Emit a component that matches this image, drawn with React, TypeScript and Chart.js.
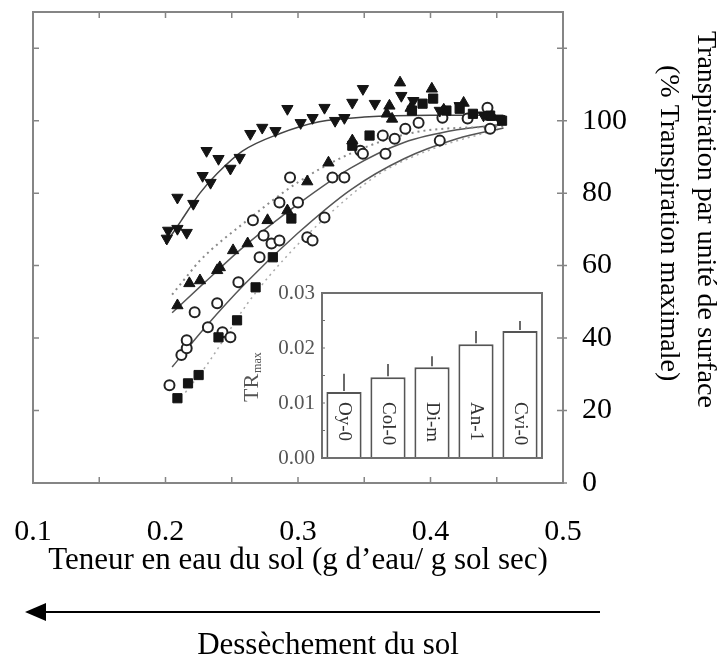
import React, { useEffect, useRef } from 'react';
import { Chart, registerables } from 'chart.js';

Chart.register(...registerables);

const FONT = "'Liberation Serif', 'Times New Roman', serif";

// ---------- Main figure data (soil water content vs. transpiration %) ----------
const downTriX = [0.201, 0.202, 0.209, 0.216, 0.209, 0.221, 0.228, 0.234, 0.231, 0.240, 0.249, 0.256, 0.264, 0.273, 0.283, 0.292, 0.302, 0.311, 0.320, 0.328, 0.335, 0.341, 0.349, 0.358, 0.378, 0.387, 0.407, 0.422, 0.440, 0.452];
const downTriY = [67.5, 69.7, 70.2, 69.1, 78.8, 77.1, 84.8, 82.9, 91.7, 89.5, 86.8, 89.8, 96.4, 98.1, 97.2, 103.3, 99.4, 100.8, 103.6, 100.0, 100.8, 105.0, 108.8, 104.7, 106.9, 105.5, 102.8, 104.1, 101.5, 100.5];

const upTriX = [0.209, 0.218, 0.226, 0.239, 0.241, 0.251, 0.262, 0.277, 0.292, 0.307, 0.323, 0.341, 0.367, 0.369, 0.371, 0.377, 0.385, 0.401, 0.410, 0.425, 0.447];
const upTriY = [49.0, 55.1, 55.9, 58.7, 59.5, 64.2, 66.1, 72.5, 75.2, 83.2, 88.4, 94.5, 101.9, 104.1, 100.5, 110.5, 103.5, 108.8, 103.0, 104.9, 101.0];

const squareX = [0.209, 0.217, 0.225, 0.240, 0.254, 0.268, 0.281, 0.295, 0.341, 0.354, 0.386, 0.394, 0.402, 0.412, 0.422, 0.432, 0.445, 0.454];
const squareY = [23.4, 27.5, 29.8, 40.2, 44.9, 54.0, 62.3, 73.0, 93.1, 95.9, 102.8, 104.7, 106.1, 102.8, 103.3, 101.9, 101.4, 100.0];

const circleX = [0.203, 0.212, 0.216, 0.216, 0.222, 0.232, 0.239, 0.243, 0.249, 0.255, 0.266, 0.271, 0.274, 0.280, 0.286, 0.286, 0.294, 0.300, 0.307, 0.311, 0.320, 0.326, 0.335, 0.347, 0.349, 0.364, 0.366, 0.373, 0.381, 0.391, 0.407, 0.409, 0.428, 0.443, 0.445];
const circleY = [27.0, 35.3, 37.2, 39.4, 47.1, 43.0, 49.6, 41.6, 40.2, 55.4, 72.5, 62.3, 68.3, 66.1, 66.9, 77.4, 84.3, 77.4, 67.8, 66.9, 73.3, 84.3, 84.3, 91.7, 90.9, 95.9, 90.9, 95.0, 97.8, 99.4, 94.5, 100.8, 100.6, 103.6, 97.8];

// fitted curves
const fitTopX = [0.200, 0.212, 0.226, 0.239, 0.258, 0.286, 0.316, 0.350, 0.400, 0.455];
const fitTopY = [66.0, 72.5, 80.0, 85.4, 91.6, 96.4, 99.7, 101.0, 101.5, 101.5];

const fitDotX = [0.205, 0.218, 0.226, 0.260, 0.300, 0.340, 0.387, 0.455];
const fitDotY = [52.0, 57.9, 61.4, 72.0, 83.0, 91.0, 96.7, 98.5];

const fitMidX = [0.205, 0.230, 0.260, 0.300, 0.340, 0.380, 0.420, 0.455];
const fitMidY = [47.0, 55.5, 65.5, 77.0, 87.0, 94.0, 97.5, 99.0];

const fitLowX = [0.205, 0.230, 0.260, 0.300, 0.340, 0.380, 0.420, 0.455];
const fitLowY = [32.0, 43.0, 55.0, 69.0, 81.0, 89.5, 95.0, 98.0];

const fitSqX = [0.215, 0.231, 0.262, 0.290, 0.320, 0.360, 0.400, 0.455];
const fitSqY = [25.0, 32.5, 49.6, 62.0, 73.0, 85.0, 92.0, 98.0];

const xTitle = 'Teneur en eau du sol (g d\u2019eau/ g sol sec)';
const rightTitle = ['Transpiration par unit\u00e9 de surface', '(% Transpiration maximale)'];
const arrowText = 'Dess\u00e8chement du sol';

// ---------- Inset data ----------
const insetCategories = ['Oy-0', 'Col-0', 'Di-m', 'An-1', 'Cvi-0'];
const insetValues = [0.0120, 0.0147, 0.0165, 0.0207, 0.0231];
const insetErrors = [0.0033, 0.0024, 0.0020, 0.0024, 0.0018];
const insetTitle = 'TR';
const insetTitleSub = 'max';

const pts = (xs: number[], ys: number[]) => xs.map((x, i) => ({ x, y: ys[i] }));

const mainDecor = {
  id: 'mainDecor',
  afterDraw(chart: any) {
    const { ctx, chartArea: a, scales } = chart;
    ctx.save();
    // frame
    ctx.strokeStyle = '#858585';
    ctx.lineWidth = 2;
    ctx.strokeRect(a.left, a.top, a.right - a.left, a.bottom - a.top);
    // inner ticks
    ctx.lineWidth = 1.5;
    ctx.beginPath();
    scales.x.ticks.forEach((t: any) => {
      const px = scales.x.getPixelForValue(t.value);
      ctx.moveTo(px, a.bottom); ctx.lineTo(px, a.bottom - 6);
      ctx.moveTo(px, a.top); ctx.lineTo(px, a.top + 6);
    });
    scales.y.ticks.forEach((t: any) => {
      if (t.value > 120) return;
      const py = scales.y.getPixelForValue(t.value);
      ctx.moveTo(a.left, py); ctx.lineTo(a.left + 6, py);
      ctx.moveTo(a.right - 6, py); ctx.lineTo(a.right + 4, py);
    });
    ctx.stroke();

    // right titles (rotated clockwise)
    ctx.fillStyle = '#000';
    ctx.font = `28px ${FONT}`;
    ctx.textAlign = 'left';
    ctx.textBaseline = 'middle';
    const rot = (txt: string, x: number, y: number) => {
      ctx.save();
      ctx.translate(x, y);
      ctx.rotate(Math.PI / 2);
      ctx.fillText(txt, 0, 0);
      ctx.restore();
    };
    rot(rightTitle[0], a.right + 142, a.top + 19);
    rot(rightTitle[1], a.right + 105, a.top + 53);

    // arrow
    const ay = a.bottom + 129;
    ctx.strokeStyle = '#000';
    ctx.lineWidth = 2;
    ctx.beginPath();
    ctx.moveTo(a.right + 37, ay);
    ctx.lineTo(a.left + 5, ay);
    ctx.stroke();
    ctx.beginPath();
    ctx.moveTo(a.left - 8, ay);
    ctx.lineTo(a.left + 13, ay - 9);
    ctx.lineTo(a.left + 13, ay + 9);
    ctx.closePath();
    ctx.fill();

    ctx.font = `31px ${FONT}`;
    ctx.textAlign = 'center';
    ctx.textBaseline = 'alphabetic';
    ctx.fillText(arrowText, a.left + 295, a.bottom + 171);
    ctx.restore();
  },
};

const insetDecor = {
  id: 'insetDecor',
  afterDraw(chart: any) {
    const { ctx, chartArea: a, scales } = chart;
    const ys = scales.y;
    ctx.save();
    ctx.strokeStyle = '#707070';
    ctx.lineWidth = 2;
    ctx.strokeRect(a.left, a.top, a.right - a.left, a.bottom - a.top);
    // small inner ticks
    ctx.lineWidth = 1;
    ctx.beginPath();
    [0.005, 0.01, 0.015, 0.02, 0.025].forEach((v) => {
      const py = ys.getPixelForValue(v);
      ctx.moveTo(a.left, py); ctx.lineTo(a.left + 3, py);
    });
    ctx.stroke();

    // error bars and labels
    const meta = chart.getDatasetMeta(0);
    meta.data.forEach((bar: any, i: number) => {
      const y0 = ys.getPixelForValue(insetValues[i]);
      const y1 = ys.getPixelForValue(insetValues[i] + insetErrors[i]);
      ctx.strokeStyle = '#6a6a6a';
      ctx.lineWidth = 2;
      ctx.beginPath();
      ctx.moveTo(bar.x, y0 - 1);
      ctx.lineTo(bar.x, y1);
      ctx.stroke();

      ctx.save();
      ctx.fillStyle = '#333';
      ctx.font = `19px ${FONT}`;
      ctx.textAlign = 'left';
      ctx.textBaseline = 'middle';
      ctx.translate(bar.x, a.bottom - 56);
      ctx.rotate(Math.PI / 2);
      ctx.fillText(insetCategories[i], 0, 0);
      ctx.restore();
    });

    // y title TR_max rotated counter-clockwise
    ctx.save();
    ctx.fillStyle = '#555';
    ctx.translate(a.left - 70, a.bottom - 56);
    ctx.rotate(-Math.PI / 2);
    ctx.textAlign = 'left';
    ctx.textBaseline = 'middle';
    ctx.font = `22px ${FONT}`;
    ctx.fillText(insetTitle, 0, 0);
    const w = ctx.measureText(insetTitle).width;
    ctx.font = `12px ${FONT}`;
    ctx.fillText(insetTitleSub, w + 1, 6);
    ctx.restore();
    ctx.restore();
  },
};

export default function App() {
  const mainRef = useRef<HTMLCanvasElement | null>(null);
  const insetRef = useRef<HTMLCanvasElement | null>(null);

  useEffect(() => {
    if (!mainRef.current || !insetRef.current) return;
    const curve = (xs: number[], ys: number[], color: string, dash: number[], width: number) => ({
      data: pts(xs, ys),
      showLine: true,
      pointRadius: 0,
      borderColor: color,
      borderWidth: width,
      borderDash: dash,
      cubicInterpolationMode: 'monotone',
      fill: false,
    });

    const main = new Chart(mainRef.current, {
      type: 'scatter',
      data: {
        datasets: [
          { data: pts(downTriX, downTriY), pointStyle: 'triangle', pointRotation: 180, pointRadius: 6.5, pointBackgroundColor: '#141414', pointBorderColor: '#141414', pointBorderWidth: 1 },
          { data: pts(upTriX, upTriY), pointStyle: 'triangle', pointRadius: 6.5, pointBackgroundColor: '#141414', pointBorderColor: '#141414', pointBorderWidth: 1 },
          { data: pts(squareX, squareY), pointStyle: 'rect', pointRadius: 6.5, pointBackgroundColor: '#141414', pointBorderColor: '#141414', pointBorderWidth: 1 },
          { data: pts(circleX, circleY), pointStyle: 'circle', pointRadius: 5, pointBackgroundColor: '#ffffff', pointBorderColor: '#222', pointBorderWidth: 2 },
          curve(fitTopX, fitTopY, '#444', [], 1.5),
          curve(fitDotX, fitDotY, '#8a8a8a', [2, 4], 2),
          curve(fitMidX, fitMidY, '#555', [], 1.5),
          curve(fitLowX, fitLowY, '#555', [], 1.5),
          curve(fitSqX, fitSqY, '#aaa', [2, 4], 1.5),
        ] as any,
      },
      options: {
        animation: false,
        responsive: false,
        devicePixelRatio: 1,
        layout: { padding: { left: 33, top: 12, right: 0, bottom: 0 } },
        plugins: { legend: { display: false }, tooltip: { enabled: false } },
        scales: {
          x: {
            type: 'linear',
            position: 'bottom',
            min: 0.1,
            max: 0.5,
            bounds: 'data',
            grid: { display: false, drawTicks: false },
            border: { display: false },
            ticks: {
              stepSize: 0.05,
              autoSkip: false,
              maxRotation: 0,
              minRotation: 0,
              includeBounds: false,
              padding: 31,
              color: '#000',
              font: { family: FONT, size: 30 },
              callback: (v: any) => {
                const r = Math.round(Number(v) * 10);
                return Math.abs(Number(v) * 10 - r) < 1e-6 ? (r / 10).toFixed(1) : '';
              },
            },
            title: {
              display: true,
              text: xTitle,
              color: '#000',
              font: { family: FONT, size: 31 },
              padding: { top: 0, bottom: 79 },
            },
            afterFit: (s: any) => { s.height = 175; s.paddingLeft = 0; s.paddingRight = 0; },
          },
          y: {
            type: 'linear',
            position: 'right',
            min: 0,
            max: 130,
            bounds: 'data',
            grid: { display: false, drawTicks: false },
            border: { display: false },
            ticks: {
              stepSize: 20,
              includeBounds: false,
              padding: 19,
              color: '#000',
              font: { family: FONT, size: 30 },
              callback: (v: any) => (Number(v) <= 100 ? String(v) : ''),
            },
            afterFit: (s: any) => { s.width = 165; s.paddingTop = 0; s.paddingBottom = 0; },
          },
        },
      } as any,
      plugins: [mainDecor],
    });

    const inset = new Chart(insetRef.current, {
      type: 'bar',
      data: {
        labels: insetCategories,
        datasets: [
          {
            data: insetValues,
            backgroundColor: '#ffffff',
            borderColor: '#555',
            borderWidth: 2,
            barPercentage: 0.8,
            categoryPercentage: 1,
          },
        ],
      },
      options: {
        animation: false,
        responsive: false,
        devicePixelRatio: 1,
        layout: { padding: { left: 0, top: 10, right: 8, bottom: 10 } },
        plugins: { legend: { display: false }, tooltip: { enabled: false } },
        scales: {
          x: { display: false },
          y: {
            min: 0,
            max: 0.03,
            bounds: 'data',
            grid: { display: false, drawTicks: false },
            border: { display: false },
            ticks: {
              stepSize: 0.01,
              includeBounds: false,
              padding: 7,
              color: '#555',
              font: { family: FONT, size: 21 },
              callback: (v: any) => Number(v).toFixed(2),
            },
            afterFit: (s: any) => { s.width = 82; s.paddingTop = 0; s.paddingBottom = 0; },
          },
        },
      } as any,
      plugins: [insetDecor],
    });

    return () => {
      main.destroy();
      inset.destroy();
    };
  }, []);

  return (
    <div style={{ position: 'absolute', left: 0, top: 0, width: 728, height: 658, background: '#fff' }}>
      <canvas ref={mainRef} width={728} height={658} style={{ position: 'absolute', left: 0, top: 0, width: 728, height: 658 }} />
      <canvas ref={insetRef} width={310} height={185} style={{ position: 'absolute', left: 240, top: 283, width: 310, height: 185 }} />
    </div>
  );
}
